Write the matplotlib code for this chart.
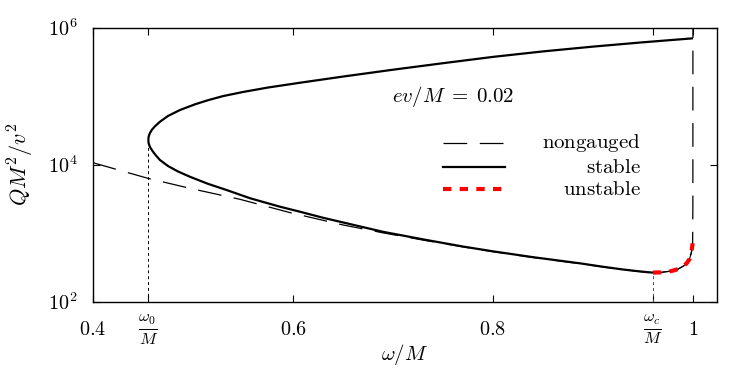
import numpy as np
import matplotlib
matplotlib.use("Agg")
import matplotlib.pyplot as plt

plt.rcParams['mathtext.fontset'] = 'cm'
plt.rcParams['font.family'] = 'DejaVu Serif'

# characteristic frequencies
w0 = 0.4553
wc = 0.96

# stable branch, upper part (from omega_0 up to omega = 1), log10 of Q M^2/v^2
up_w = [0.4553, 0.4557, 0.4569, 0.459, 0.462, 0.467, 0.475, 0.487, 0.502, 0.515, 0.530, 0.550,
        0.575, 0.607, 0.65, 0.70, 0.75, 0.80, 0.85, 0.90, 0.95, 1.0]
up_logq = [4.359, 4.41, 4.46, 4.51, 4.56, 4.626, 4.71, 4.797, 4.88, 4.94, 5.00, 5.06,
           5.125, 5.195, 5.285, 5.385, 5.48, 5.572, 5.652, 5.722, 5.785, 5.843]

# stable branch, lower part (from omega_0 down to omega_c)
lo_w = [0.4553, 0.4557, 0.4569, 0.459, 0.462, 0.467, 0.475, 0.485, 0.497, 0.515, 0.5337, 0.557,
        0.587, 0.607, 0.63, 0.6537, 0.69, 0.7337, 0.77, 0.80, 0.84, 0.887, 0.91, 0.93, 0.945,
        0.955, 0.96]
lo_logq = [4.359, 4.31, 4.26, 4.21, 4.15, 4.067, 3.98, 3.90, 3.823, 3.72, 3.629, 3.51,
           3.386, 3.313, 3.225, 3.144, 3.02, 2.90, 2.805, 2.735, 2.65, 2.56, 2.51, 2.47, 2.445,
           2.43, 2.425]

# unstable branch (omega_c to omega = 1)
un_w = [0.96, 0.968, 0.9787, 0.985, 0.9905, 0.9937, 0.9965, 0.9985, 0.9997]
un_logq = [2.425, 2.428, 2.448, 2.475, 2.52, 2.56, 2.62, 2.72, 2.852]

# nongauged curve
ng_w = [0.40, 0.455, 0.497, 0.547, 0.597, 0.65, 0.69, 0.7337, 0.77, 0.80, 0.84, 0.887, 0.91,
        0.93, 0.945, 0.955, 0.96, 0.968, 0.9787, 0.985, 0.9905, 0.9937, 0.9965, 0.9985, 0.9997,
        0.99995, 1.0]
ng_logq = [4.028, 3.80, 3.654, 3.494, 3.30, 3.12, 3.005, 2.89, 2.80, 2.73, 2.645, 2.555, 2.507,
           2.468, 2.444, 2.43, 2.425, 2.428, 2.448, 2.475, 2.52, 2.56, 2.62, 2.72, 2.852,
           3.4, 6.2]

fig = plt.figure(figsize=(7.41, 3.74), dpi=100)
ax = fig.add_axes([0.1255, 0.1933, 0.842, 0.733])

ax.plot(ng_w, 10 ** np.array(ng_logq), color='black', lw=0.9, ls=(0, (19, 10)))
ax.plot(up_w, 10 ** np.array(up_logq), color='black', lw=1.6, solid_capstyle='butt')
ax.plot(lo_w, 10 ** np.array(lo_logq), color='black', lw=1.6, solid_capstyle='butt')
ax.plot(un_w, 10 ** np.array(un_logq), color='black', lw=0.8)
ax.plot(un_w, 10 ** np.array(un_logq), color='red', lw=3.0, ls=(0, (2, 2)))

# markers of omega_0 and omega_c
ax.vlines(w0, 1e2, 10 ** up_logq[0], color='black', lw=0.7, ls=(0, (3, 3)))
ax.vlines(wc, 1e2, 10 ** lo_logq[-1], color='0.3', lw=0.7, ls=(0, (3, 3)))

ax.set_yscale('log')
ax.set_xlim(0.4, 1.024)
ax.set_ylim(1e2, 1e6)

xticks = [0.4, w0, 0.6, 0.8, wc, 1.0]
xlabels = [r'$0.4$', r'$\frac{\omega_0}{M}$', r'$0.6$', r'$0.8$', r'$\frac{\omega_c}{M}$', r'$1$']
ax.set_xticks(xticks)
ax.set_xticklabels(xlabels)
ax.set_yticks([1e2, 1e4, 1e6])
ax.set_yticklabels([r'$10^2$', r'$10^4$', r'$10^6$'])
ax.minorticks_off()
ax.tick_params(direction='in', top=True, right=True, length=5, width=0.8,
               labelsize=14.5, pad=11, colors='black')
ax.tick_params(axis='x', pad=20)
for i, t in enumerate(ax.get_xticklabels()):
    t.set_va('center')
    if i in (1, 4):
        t.set_fontsize(17)
for s in ax.spines.values():
    s.set_linewidth(1.0)

ax.set_xlabel(r'$\omega/M$', fontsize=15)
ax.xaxis.set_label_coords(0.5, -0.148)
ax.set_ylabel(r'$QM^2/v^2$', fontsize=16)
ax.yaxis.set_label_coords(-0.092, 0.5)

ax.text(0.479, 0.748, r'$ev/M\;=\;0.02$', transform=ax.transAxes,
        fontsize=15, ha='left', va='center')

# legend, gnuplot style: key on the left, label right aligned
keys = [(r'$\mathrm{nongauged}$', dict(color='black', lw=0.9, ls=(0, (19, 10)))),
        (r'$\mathrm{stable}$', dict(color='black', lw=1.6)),
        (r'$\mathrm{unstable}$', dict(color='red', lw=3.0, ls=(0, (2, 2))))]
rows = [0.579, 0.491, 0.411]
for (lab, st), yy in zip(keys, rows):
    ax.plot([0.561, 0.660], [yy, yy], transform=ax.transAxes, **st)
    ax.text(0.878, yy, lab, transform=ax.transAxes, fontsize=15,
            ha='right', va='center')

fig.savefig('out.png', dpi=100)
